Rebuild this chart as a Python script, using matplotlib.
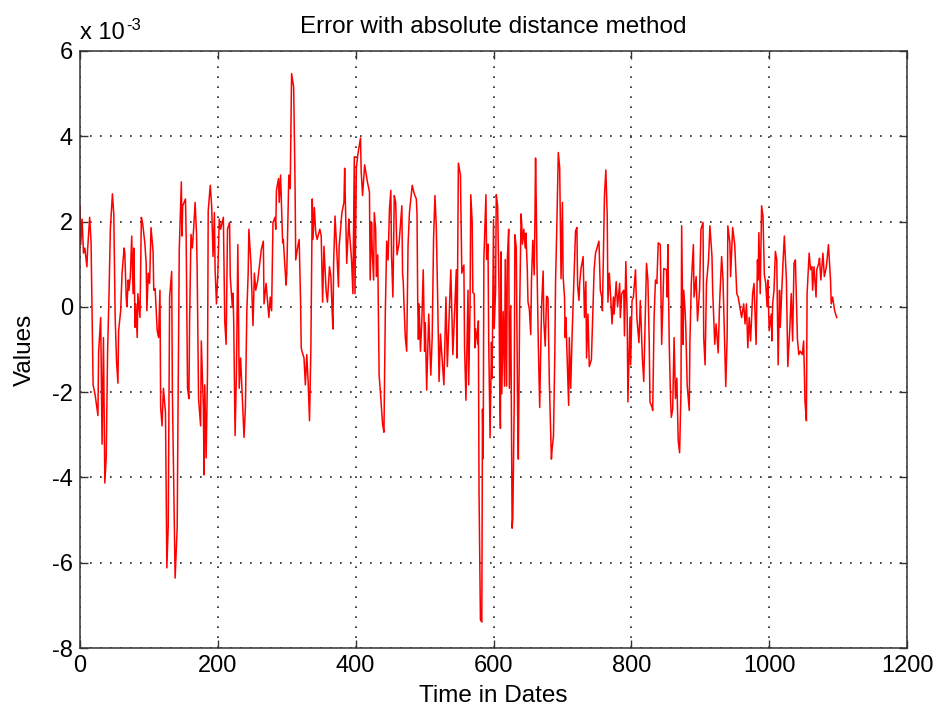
import matplotlib
matplotlib.use("Agg")
import matplotlib.pyplot as plt
import numpy as np

plt.rcParams['font.family'] = ['Liberation Sans', 'DejaVu Sans']
plt.rcParams['axes.unicode_minus'] = False

title = "Error with absolute distance method"
x_label = "Time in Dates"
y_label = "Values"
x_ticks = [0, 200, 400, 600, 800, 1000, 1200]
y_ticks = [-8, -6, -4, -2, 0, 2, 4, 6]

days = [
    0, 1, 3, 5, 7, 10, 11, 14, 16, 19, 22, 26, 27, 30, 32, 34, 36, 38, 40, 42, 44, 47, 49, 51, 53, 55, 56, 59, 61, 64,
    65, 67, 68, 70, 71, 73, 75, 77, 78, 80, 81, 83, 84, 87, 89, 91, 94, 96, 97, 99, 101, 103, 106, 107, 109, 112, 114,
    116, 117, 119, 121, 124, 126, 128, 130, 133, 134, 136, 138,
    141, 142, 144, 147, 148, 149, 153, 154, 156, 158, 159, 161, 163, 165, 167, 169, 170, 172, 175, 176, 179, 180, 181,
    183, 185, 186, 189, 191, 193, 195, 196, 198, 200, 202, 204, 208, 210, 212, 214, 217, 218, 221, 222, 223, 225, 227,
    229, 231, 233, 235, 238, 240, 242, 244, 245, 248, 251, 253, 255, 258, 263, 266, 267, 270, 274, 276, 278, 280, 283,
    284, 285, 288, 289, 291, 294, 295, 297, 299, 300, 303, 305, 307, 310, 312, 313, 316, 318, 320, 321, 322, 325, 327,
    329, 331, 333, 335, 337, 338, 340, 342, 344, 348, 350, 352, 354, 357, 359, 362, 364, 366, 367, 368, 370, 372, 375,
    376, 380, 383, 384, 386, 387, 390, 391, 394, 396, 398, 399, 401, 403, 407, 408, 410, 413, 417, 420, 421,
    423, 424, 426, 427, 429, 430, 432, 434, 436, 439, 441, 443, 445, 447, 449, 451, 452, 454, 456, 458, 460, 463, 467,
    468, 469, 470, 472, 474, 476, 478, 482, 485, 488, 489, 490, 491, 492, 494, 496, 498, 500, 501, 503, 506, 509, 511,
    513, 515, 517, 519, 521, 523, 525, 528, 531, 533, 538, 541, 546, 547, 549, 552, 554, 557, 558, 560, 563, 564,
    566, 567, 569, 570, 572, 573, 574, 577, 578, 579, 581, 583, 584, 585, 586, 589, 590, 592, 593, 595, 597, 598, 600,
    601, 603, 604, 606, 608, 609, 610, 611, 612, 614, 616, 617, 619, 620, 622, 623, 625, 627, 628, 630, 631, 633, 635,
    636, 638, 640, 641, 642, 644, 646, 647, 649, 650, 652, 654, 655, 657, 659, 660, 661, 662, 663, 665, 667, 669, 670,
    672, 673, 675, 677, 679, 681, 684, 685, 687, 689, 690, 692, 694, 696, 698, 700,
    701, 703, 704, 705, 707, 709, 710, 712, 714, 716, 719, 721, 722, 724, 725, 727, 730, 732, 734, 735, 737, 739, 742,
    744, 746, 748, 753, 755, 757, 758, 761, 763, 765, 766, 768, 770, 772, 774, 775, 778, 780, 783, 784, 786, 789, 790,
    792, 794, 795, 798, 799, 801, 803, 806, 808, 811, 813, 816, 818, 822, 824, 826, 827, 830, 831, 833, 835, 837, 839,
    842, 844, 846,
    847, 851, 852, 853, 855, 857, 858, 860, 862, 864, 866, 868, 870, 872, 873, 875, 876, 878, 879, 881, 884, 885, 887,
    890, 891, 894, 896, 899, 901, 904, 905, 907, 909, 912, 914, 917, 918, 921, 923, 926, 928, 931, 933, 936, 937, 939,
    940, 943, 944, 947, 950, 953, 955, 958, 960, 963, 965, 967, 969, 971, 973, 976, 978, 981,
    983, 984, 985, 987, 989, 991, 993, 995, 997, 998, 1000, 1003, 1004, 1005, 1007, 1009, 1011, 1013, 1015, 1016, 1020,
    1022, 1025, 1027, 1030, 1032, 1034, 1036, 1038, 1041, 1043, 1045, 1048, 1050, 1052, 1054, 1055, 1057, 1058, 1060,
    1062, 1063, 1065, 1068, 1069, 1072, 1073, 1075, 1078, 1080, 1083, 1086, 1089, 1090, 1092, 1095, 1098,
]

error_e3 = [
    2.37, 1.46, 2.06, 1.26, 1.38, 0.94, 1.34, 2.10, 1.54, -1.83, -2.07, -2.55, -1.04, -0.25, -3.22, -0.72, -4.13, -3.54,
    -1.04, 0.23, 1.82, 2.65, 2.17, -0.25, -1.28, -1.79, -0.56, -0.09, 0.79, 1.38,
    1.26, 0.23, 0.00, 0.63, 0.39, 0.71, 1.66, 0.31, 1.38, -0.48, 0.07, -0.72, 0.31, -0.25, 2.10, 1.94, 1.50, 1.02, -0.09,
    0.79, 0.55, 1.86, 1.30, 0.39, 0.43, -0.56, -0.72,
    0.39, -2.35, -2.79, -1.91, -2.47, -6.12, -5.13, 0.23, 0.83, -1.99, -4.13, -6.36,
    -5.17, -2.87, 1.34, 2.93, 1.66, 2.37, 2.53, 1.66, -1.91, -2.15, -0.33, 1.70, 1.38, 1.86, 2.45, 1.74, 0.87, -2.15,
    -2.79, -0.80, -2.39, -3.94, -1.83,
    -3.54, -1.52, 2.25, 2.85, 2.37, 1.18, 2.21, 0.87, 0.07, 0.79, 2.06, 1.82, 2.10, -0.33, -0.88, 1.82, 1.98, 0.71, 0.00,
    0.32, -0.33, -3.02, -1.52,
    1.46, -1.91, -1.20, -1.95, -3.06, -2.35, -0.13, 0.79, 1.82, 1.02, -0.44, 0.79, 0.39, 0.63, 1.34, 1.54, 0.07, 0.55,
    -0.25, 0.23, -0.09, 1.98, 2.10,
    1.82, 2.73, 3.01, 2.45, 3.09, 1.50, 1.58, 1.02, 0.51, 0.79, 3.09, 2.77, 5.47, 5.15, 2.89, 1.10, 1.42, 1.58, 0.15,
    -0.96, -1.04, -1.20, -1.83,
    -1.12, -1.75, -2.67, -0.96, 2.53, 1.58, 2.33, 1.74, 1.58, 1.82, 1.66, 0.11, 1.42, 0.39, 0.11, 0.94, 0.71, -0.17,
    -0.52, 1.02, 2.13, 1.50, 0.47,
    1.42, 2.21, 2.45, 3.25, 1.82, 1.02, 2.06, 1.74, 1.10, 0.31, 3.52, 0.31, 3.25, 3.56, 3.96, 3.17, 2.61, 3.33, 2.93,
    2.69, 0.63,
    1.98, 1.34, 0.63, 2.21, 1.82, 0.71, 1.22, -1.60, -2.03, -2.75, -2.94, -0.13, 1.54, 1.10, 2.29, 2.73, 1.22, 0.23,
    2.61, 2.45, 1.22, 1.50, 2.37,
    0.79, 0.59, 0.11, -0.72, -1.04, 1.46, 2.21, 2.85, 2.65, 2.53, 2.17, 0.15, -0.76, 0.07, -1.04, -0.33, 0.87, -1.04,
    -0.37, -1.95, -0.17, -1.60, -0.72,
    1.58, 2.61, 1.86, 0.15, -1.75, -0.64, -1.12, -1.83, 0.23, -1.40, 0.87, -1.12, 0.87, -1.20, 3.37, 3.09, 0.79, 0.98,
    -0.96, -2.19, 0.39, -1.83,
    0.12, 2.63, 2.00, 0.34, 0.30, -0.96, -0.51, -0.87, -0.33, -4.38, -7.34, -7.39, -2.40, -3.56, 1.11, 2.63, 1.11, 1.47,
    -0.78, -3.07, -0.83, -1.68, 2.05,
    -0.51, 0.39, 2.63, 2.36, 0.39, -1.91, -2.85, 1.29, -2.04, -0.11, -1.86, 1.11, -1.86, 1.11, 1.82, -1.91, 0.03, -5.19,
    -4.96, -2.31, 1.69, 1.38, -2.49,
    -3.57, 0.03, 2.18, 1.91, 1.47, 1.82, 1.38, 1.73, 0.88, 0.12, -0.06, -0.65, 0.57, 1.56, 0.75, 1.91, 3.49, 2.45, 1.06,
    -0.87, -2.36, -0.60, 0.12,
    0.84, -0.33, -0.92, 0.25, 0.21, -1.77, -3.57, -3.34, -3.03, -1.05, 0.57, 2.00, 3.62, 3.26, 0.66, 2.45,
    0.71, 0.23, -0.72, -0.25, -1.28, -2.31, -0.72, -1.91, -0.68, 0.31, 1.78, 1.86, 0.51, 0.15, 0.55, 0.90, 1.18, -0.25,
    0.59, -1.20, -0.17, -1.40, -1.24,
    -0.17, 0.87, 1.26, 1.54, 0.39, 0.23, -0.09, 2.61, 3.21, 2.13, 0.11, 0.79, 0.23, -0.40, 0.23, -0.17, 0.59, 0.00, 0.55,
    -0.25, 0.31, 0.39, -0.68,
    1.06, -0.25, -2.23, -0.25, -1.36, 0.15, 0.23, 0.87, -0.25, -0.84, 0.15, -1.20, -1.75, 1.02, 0.63, -0.88, -2.23,
    -2.35, -2.43, -0.25, 0.63, 0.55, 1.50,
    1.46, -0.88, 0.23,
    0.90, 0.87, 0.23, 1.46, -0.88, -2.23, -2.59, -2.39, -0.72, -2.15, -1.67, -3.14, -3.42, -1.99, 1.90, -0.88, 0.39,
    -0.09, -0.48, -1.83, -2.43, -0.80, 0.55,
    1.46, 0.23, 0.71, -0.33, 0.39, 1.82, 1.98, -0.72, -1.36, 0.55, 1.10, 1.90, 1.18, 0.39, -0.88, -0.40, -1.08, 0.07,
    1.18, 0.63, -1.28, -1.87, -0.72,
    1.90, 1.50, 0.71, 1.86, 1.46, 0.31, 0.23, -0.05, -0.25, 0.07, -0.40, 0.07, -0.96, -0.25, -0.80, 0.31, 0.55, -0.88,
    1.10, 0.63, 1.74, 0.31, 2.37, 2.13, 0.75, 0.55, 0.00, 0.63, -0.56, -0.17, -0.80, 0.07, 0.39, 1.30, 1.10, -1.36,
    0.39, -0.48, 1.02,
    1.66, 0.63, -1.40, -0.48, 0.31, -0.80, 1.02, 1.10, -0.76, -1.12, -1.04, -1.12, -0.80, -2.23, -2.67, 0.31, 0.94,
    1.26, 0.87,
    0.94, 0.39, 0.94, 0.23, 0.87, 1.02, 1.14, 0.63, 1.26, 0.71, 0.94, 1.46, 0.63, 0.07, 0.23, -0.09, -0.25,
]

assert len(days) == len(error_e3), (len(days), len(error_e3))

fig = plt.figure(figsize=(9.37, 7.14), dpi=100)
ax = fig.add_axes([0.0854, 0.0924, 0.8826, 0.8362])
ax.plot(days, error_e3, color='red', linewidth=1.1)

ax.set_xlim(0, 1200)
ax.set_ylim(-8, 6)
ax.set_xticks(x_ticks)
ax.set_yticks(y_ticks)
ax.tick_params(direction='in', top=True, right=True, labelsize=17, length=6,
               width=1.0, color='#333333', pad=5)
ax.grid(True, linestyle=(0, (1, 5)), color='#222222', linewidth=1.2)
for s in ax.spines.values():
    s.set_linewidth(1.1)
    s.set_color('#333333')

ax.set_title(title, fontsize=17.5, pad=13)
ax.set_xlabel(x_label, fontsize=17.5, labelpad=6)
ax.set_ylabel(y_label, fontsize=17.5, labelpad=12)
base = ax.text(0.0, 1.012, "x 10", transform=ax.transAxes, fontsize=17,
               ha='left', va='bottom')
ax.annotate("-3", xy=(1.0, 0.85), xycoords=base, xytext=(1, 0),
            textcoords='offset points', fontsize=12, ha='left', va='center')

fig.savefig("out.png", dpi=100)
